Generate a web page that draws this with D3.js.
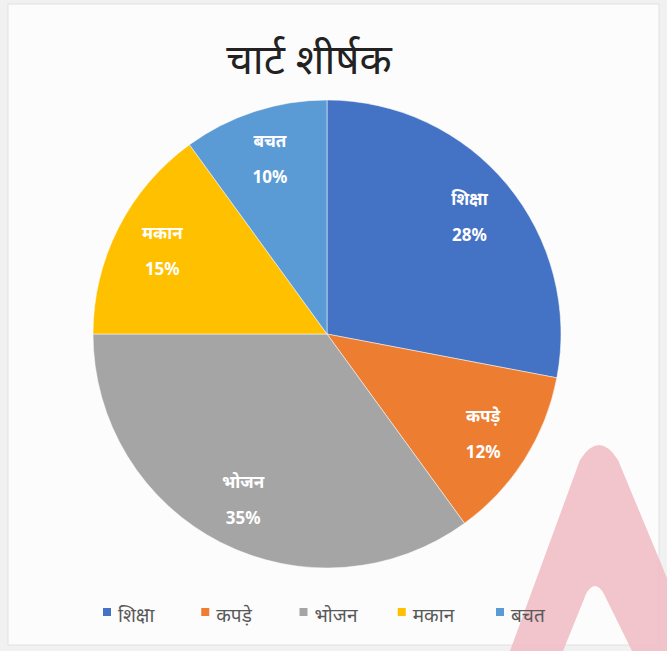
<!DOCTYPE html>
<html>
<head>
<meta charset="utf-8">
<script src="https://cdn.jsdelivr.net/npm/d3@7"></script>
<style>
  body { margin: 0; background: #fff; }
  svg { display: block; font-family: "Noto Sans", "DejaVu Sans", sans-serif; }
</style>
</head>
<body>
<script>
var categories = ["शिक्षा", "कपड़े", "भोजन", "मकान", "बचत"];
var values = [28, 12, 35, 15, 10];
var colors = ["#4472C4", "#ED7D31", "#A5A5A5", "#FFC000", "#5B9BD5"];
var title = "चार्ट शीर्षक";

var svgWidth = 667,
    svgHeight = 651;
var cx = 327, cy = 334, radius = 234;

var svg = d3.select("body").append("svg")
    .attr("width", svgWidth)
    .attr("height", svgHeight);

// chart background and frame
svg.append("rect")
    .attr("width", svgWidth)
    .attr("height", svgHeight)
    .attr("fill", "#f1f1f1");
svg.append("rect")
    .attr("x", 8).attr("y", 4)
    .attr("width", 651)
    .attr("height", 641)
    .attr("fill", "#fcfcfc")
    .attr("stroke", "#e2e2e2");

// title
svg.append("text")
    .attr("x", 309)
    .attr("y", 74)
    .attr("text-anchor", "middle")
    .attr("font-size", 42)
    .attr("fill", "#222")
    .text(title);

var data = categories.map((c, i) => ({name: c, value: values[i], color: colors[i]}));

var pie = d3.pie()
    .sort(null)
    .value(d => d.value);
var arc = d3.arc()
    .innerRadius(0)
    .outerRadius(radius);
var labelArc = d3.arc()
    .innerRadius(radius * 0.79)
    .outerRadius(radius * 0.79);

var g = svg.append("g")
    .attr("transform", "translate(" + cx + "," + cy + ")");

var arcs = pie(data);
g.selectAll("path")
    .data(arcs)
    .enter().append("path")
    .attr("d", arc)
    .attr("fill", d => d.data.color)
    .attr("stroke", "#fff")
    .attr("stroke-width", 0.5);

var total = d3.sum(values);
var labels = g.selectAll("text.lbl")
    .data(arcs)
    .enter().append("text")
    .attr("class", "lbl")
    .attr("transform", d => "translate(" + labelArc.centroid(d) + ")")
    .attr("text-anchor", "middle")
    .attr("fill", "#fff")
    .attr("font-size", 17)
    .attr("font-weight", "bold");
labels.append("tspan")
    .attr("x", 0).attr("dy", -11)
    .text(d => d.data.name);
labels.append("tspan")
    .attr("x", 0).attr("dy", 36)
    .text(d => Math.round(d.data.value / total * 100) + "%");

// watermark (behind legend text)
svg.append("path")
    .attr("d", "M510,651 L580,460 Q599,430 618,460 L667,578 L667,651 L632,651 L604,594 Q595,578 586,594 L563,651 Z")
    .attr("fill", "#f0bcc4")
    .attr("opacity", 0.88);

// legend
var legendX = d3.scalePoint()
    .domain(categories)
    .range([103, 496]);
var legend = svg.append("g")
    .selectAll("g")
    .data(data)
    .enter().append("g")
    .attr("transform", d => "translate(" + legendX(d.name) + ",622)");
legend.append("rect")
    .attr("x", 0).attr("y", -14)
    .attr("width", 8).attr("height", 8)
    .attr("fill", d => d.color);
legend.append("text")
    .attr("x", 15)
    .attr("y", 0)
    .attr("font-size", 19)
    .attr("fill", "#595959")
    .text(d => d.name);
</script>
</body>
</html>
